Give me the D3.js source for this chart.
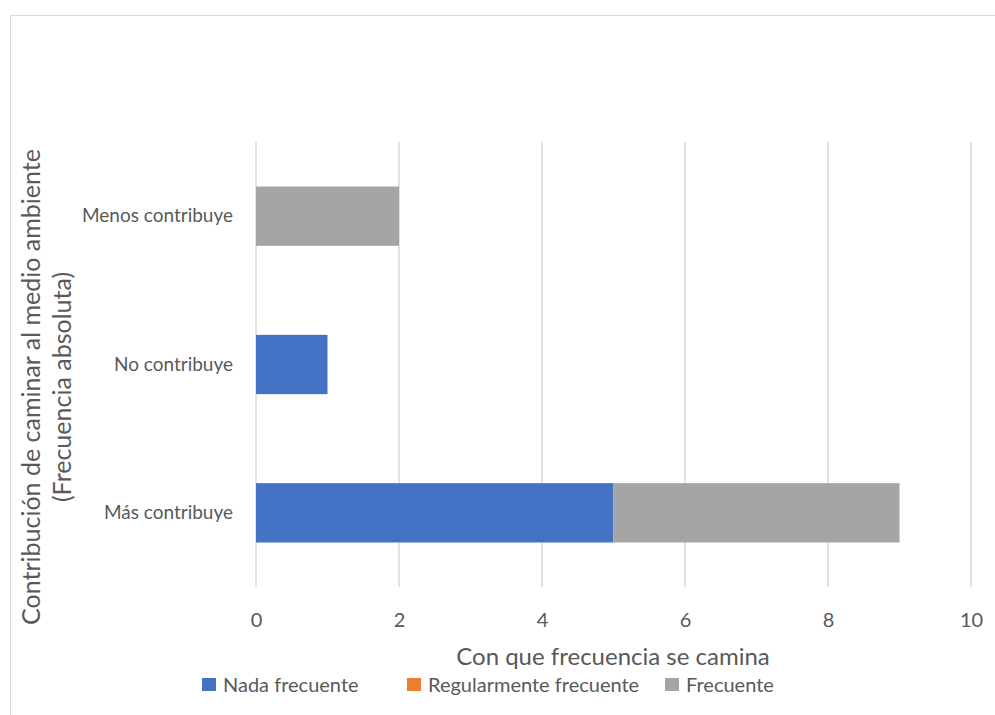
<!DOCTYPE html>
<html><head><meta charset="utf-8">
<script src="https://cdn.jsdelivr.net/npm/d3@7"></script>
<style>body{margin:0;background:#fff}svg{display:block}text{font-family:Lato,"Open Sans",sans-serif;fill:#595959}</style>
</head><body><svg id="c" width="995" height="715"></svg>
<script>
const categories = ["Menos contribuye", "No contribuye", "Más contribuye"];
const seriesNames = ["Nada frecuente", "Regularmente frecuente", "Frecuente"];
const nadaFrecuente = [0, 1, 5];
const regularmenteFrecuente = [0, 0, 0];
const frecuente = [2, 0, 4];
const xTicks = [0, 2, 4, 6, 8, 10];
const colors = ["#4472C4", "#ED7D31", "#A5A5A5"];

const svg = d3.select("#c");
svg.append("rect").attr("x",10.5).attr("y",15.5).attr("width",1000).attr("height",720)
  .attr("fill","#fff").attr("stroke","#d9d9d9").attr("stroke-width",1);

const m = {left:256, right:971, top:142, bottom:587};
const x = d3.scaleLinear().domain([0,10]).range([m.left, m.right]);
const y = d3.scaleBand().domain(categories).range([m.top, m.bottom]).paddingInner(0.6).paddingOuter(0.3);

const table = categories.map((c,i)=>({cat:c, "Nada frecuente":nadaFrecuente[i], "Regularmente frecuente":regularmenteFrecuente[i], "Frecuente":frecuente[i]}));
const stacked = d3.stack().keys(seriesNames)(table);

// gridlines
svg.append("g").selectAll("line").data(xTicks).join("line")
  .attr("x1",d=>x(d)).attr("x2",d=>x(d)).attr("y1",m.top).attr("y2",m.bottom)
  .attr("stroke","#d9d9d9").attr("stroke-width",1.5);

svg.append("g").selectAll("g").data(stacked).join("g").attr("fill",(d,i)=>colors[i])
  .selectAll("rect").data(d=>d).join("rect")
  .attr("x",d=>x(d[0])).attr("width",d=>x(d[1])-x(d[0]))
  .attr("y",d=>y(d.data.cat)).attr("height",y.bandwidth());

// x tick labels
const xa = svg.append("g").attr("transform",`translate(0,${m.bottom})`)
  .call(d3.axisBottom(x).tickValues(xTicks).tickSize(0).tickPadding(26));
xa.select(".domain").remove();
xa.selectAll("text").style("font-size","20px").attr("fill","#595959").style("font-family","Lato,'Open Sans',sans-serif");

// y labels
const ya = svg.append("g").attr("transform",`translate(${m.left},0)`)
  .call(d3.axisLeft(y).tickSize(0).tickPadding(23));
ya.select(".domain").remove();
ya.selectAll("text").style("font-size","19px").attr("fill","#595959").style("font-family","Lato,'Open Sans',sans-serif");

svg.append("text").attr("x",613).attr("y",665).attr("text-anchor","middle").style("font-size","24px")
  .text("Con que frecuencia se camina");

const yt = svg.append("text").attr("transform","translate(0,387) rotate(-90)").attr("text-anchor","middle").style("font-size","25px");
yt.append("tspan").attr("x",0).attr("y",40).text("Contribución de caminar al medio ambiente");
yt.append("tspan").attr("x",0).attr("y",71).text("(Frecuencia absoluta)");

// legend
const legX = [202, 407, 665];
const lg = svg.append("g").selectAll("g").data(seriesNames).join("g")
  .attr("transform",(d,i)=>`translate(${legX[i]},678)`);
lg.append("rect").attr("width",14).attr("height",13).attr("fill",(d,i)=>colors[i]);
lg.append("text").attr("x",21).attr("y",13.5).style("font-size","20px").text(d=>d);
</script></body></html>
